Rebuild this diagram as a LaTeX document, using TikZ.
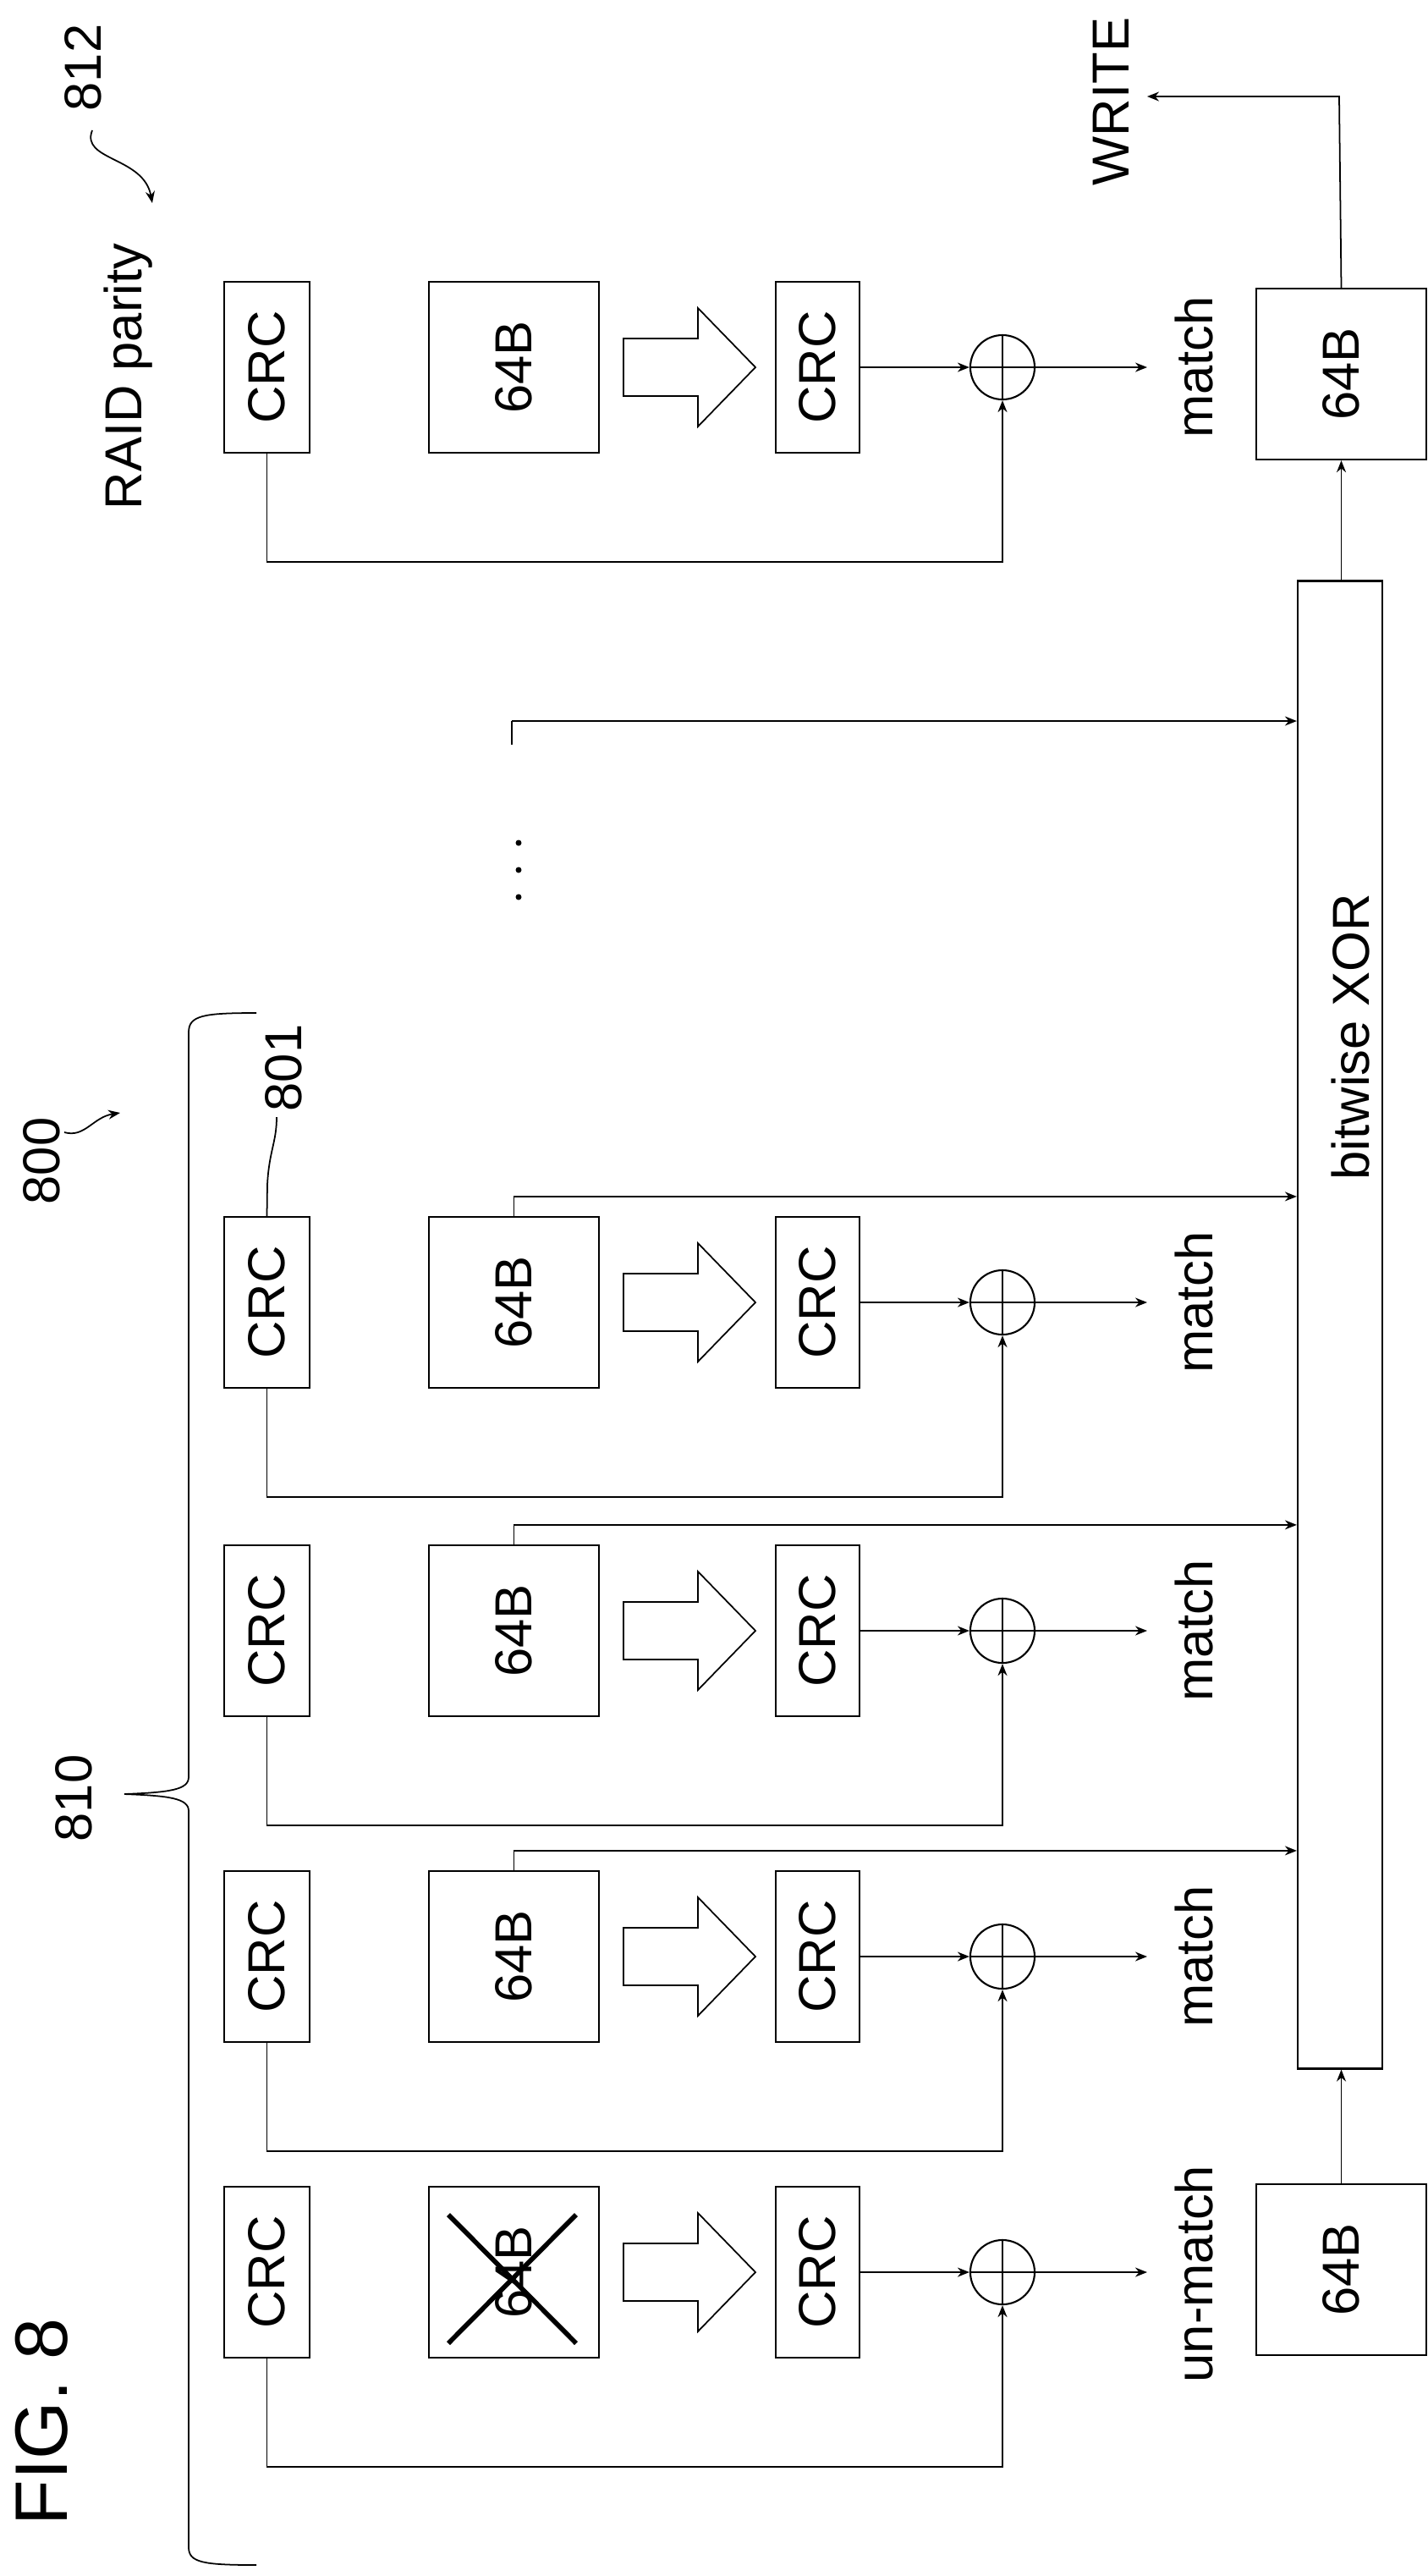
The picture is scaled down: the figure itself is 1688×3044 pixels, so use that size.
\documentclass[tikz,border=0pt]{standalone}
\usepackage{fontspec}
\setmainfont{Liberation Sans}
\usetikzlibrary{arrows.meta,calc}
\begin{document}
\begin{tikzpicture}[x=0.01cm,y=0.01cm,
  ln/.style={line width=0.5pt},
  arr/.style={ln,-{Stealth[length=0.14cm,width=0.11cm]}},
  box/.style={draw,line width=0.6pt,inner sep=0pt,minimum height=2.02cm},
  lbl/.style={inner sep=0pt,font=\fontsize{17.5}{20}\selectfont,rotate=90},
  xo/.style={draw,line width=0.6pt,circle,minimum size=0.76cm,inner sep=0pt,
     path picture={\draw[ln] (path picture bounding box.north) -- (path picture bounding box.south);
                   \draw[ln] (path picture bounding box.west) -- (path picture bounding box.east);}}]
\useasboundingbox (0,0) rectangle (1688,-3044);

% bitwise XOR bar
\node[draw,line width=0.6pt,minimum width=1.0cm,minimum height=17.57cm,inner sep=0pt] (xor) at (1584,-1565.5) {};
\node[lbl] (xort) at (1596,-1225) {bitwise XOR};

\foreach \i/\c in {0/434,1/1539,2/1927,3/2312,4/2685}{
  \node[box,minimum width=1.01cm] (crc\i) at (315.5,-\c) {};
  \node[lbl] at (crc\i) {CRC};
  \node[box,minimum width=2.01cm] (b\i) at (607.5,-\c) {};
  \node[box,minimum width=0.99cm] (crcb\i) at (966.5,-\c) {};
  \node[lbl] at (crcb\i) {CRC};
  \node[xo] (x\i) at (1185,-\c) {};
  \coordinate (o\i) at (1356,-\c);
  \draw[ln] (737,-\c+34) -- (825,-\c+34) -- (825,-\c+70) -- (893,-\c) -- (825,-\c-70) -- (825,-\c-34) -- (737,-\c-34) -- cycle;
  \draw[arr] (crcb\i.east) -- (x\i.west);
  \draw[arr] (x\i.west) -- (o\i);
  \draw[arr] (crc\i.south) -- ++(0,-128) -| (x\i.south);
}
\foreach \i in {0,1,2,3} \node[lbl] at (b\i) {64B};
% crossed 64B
\node[lbl] at (b4) {64B};
\draw[line width=1.6pt] (530,-2617) -- (681,-2769);
\draw[line width=1.6pt] (530,-2769) -- (681,-2617);

\foreach \i in {1,2,3}{
  \coordinate (k\i) at ($(b\i.north)+(0,23)$);
  \draw[arr] (b\i.north) -- (k\i) -- (k\i -| xor.west);
}
% extra input
\coordinate (d1) at (605,-880);
\coordinate (d2) at (605,-852);
\draw[line width=0.4pt] (d1) -- (d2);
\draw[arr] (d2) -- (d2 -| xor.west);
\foreach \y in {996,1028,1060} \fill (613,-\y) circle (3.5);

% match labels
\foreach \c in {434,1539,1927,2312} \node[lbl] at (1411,-\c) {match};
\node[lbl] at (1411,-2687) {un-match};

% output boxes
\node[box,minimum width=2.01cm] (top) at (1585.5,-442) {};
\node[lbl] at (top) {64B};
\node[box,minimum width=2.01cm] (bot) at (1585.5,-2682) {};
\node[lbl] at (bot) {64B};
\draw[arr] (bot.north) -- (bot.north |- xor.south);
\draw[arr] (top.south |- xor.north) -- (top.south);
\coordinate (w1) at (1583,-114);
\coordinate (w2) at (1356,-114);
\draw[arr] (top.north) -- (w1) -- (w2);
\node[lbl] (write) at (1313,-120) {WRITE};

% labels
\node[lbl] (raid) at (152,-445) {RAID parity};
\node[lbl] (n812) at (98,-80) {812};
\coordinate (s1) at (109,-154);
\coordinate (s2) at (180,-240);
\draw[arr] (s1) .. controls (95,-190) and (170,-185) .. (s2);

\node[lbl] (n800) at (49,-1372) {800};
\coordinate (e1) at (76,-1338);
\coordinate (e2) at (142,-1315);
\draw[arr] (e1) .. controls (100,-1345) and (110,-1320) .. (e2);

\node[lbl] (n801) at (335,-1262) {801};
\draw[ln] (crc1.north) -- (316,-1400) .. controls (318,-1360) and (327,-1350) .. (327,-1320);

\node[lbl] (n810) at (87,-2125) {810};
\draw[ln] (303,-1197) .. controls (240,-1197) and (223,-1200) .. (223,-1220) -- (223,-2100)
  .. controls (223,-2115) and (200,-2118) .. (147,-2120)
  .. controls (200,-2122) and (223,-2125) .. (223,-2140) -- (223,-3010)
  .. controls (223,-3028) and (240,-3031) .. (303,-3031);

\node[inner sep=0pt,font=\fontsize{25}{28}\selectfont,rotate=90] (fig) at (49,-2862) {FIG. 8};
\end{tikzpicture}
\end{document}
